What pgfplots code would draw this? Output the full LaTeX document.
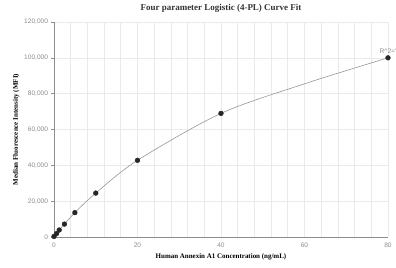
\documentclass[border=0pt]{standalone}
\usepackage{pgfplots}
\pgfplotsset{compat=1.18}
\usepackage{fontspec}
\setmainfont{Liberation Serif}
\newfontfamily\tickfont{Liberation Sans}
\definecolor{gridc}{RGB}{234,234,238}
\definecolor{tickc}{RGB}{140,140,140}
\definecolor{curvec}{RGB}{150,150,150}
\begin{document}
\begin{tikzpicture}
\useasboundingbox (-54bp,-31bp) rectangle (342bp,237bp);
\begin{axis}[
  scale only axis,
  width=334bp, height=215bp,
  xmin=0, xmax=80, ymin=0, ymax=120000,
  xtick={0,20,40,60,80},
  minor x tick num=4,
  ytick={0,20000,40000,60000,80000,100000,120000},
  scaled y ticks=false,
  yticklabel style={/pgf/number format/.cd,fixed,1000 sep={,}},
  /pgf/number format/assume math mode=true,
  tick label style={font=\tickfont\fontsize{6.6}{7}\selectfont, text=tickc},
  grid=both,
  major grid style={gridc, line width=0.6bp},
  minor grid style={gridc, line width=0.6bp},
  axis line style={draw=none},
  axis x line*=bottom, axis y line*=left,
  x axis line style={draw=tickc, line width=0.7bp},
  y axis line style={draw=tickc, line width=0.7bp},
  tick style={draw=tickc, line width=0.5bp},
  tick align=outside,
  major tick length=2.5bp,
  minor tick length=0pt,
  xtick style={draw=none},
  xlabel={\bfseries Human Annexin A1 Concentration (ng/mL)},
  ylabel={\bfseries Median Fluorescence Intensity (MFI)},
  label style={font=\fontsize{7}{8}\selectfont},
  xlabel style={yshift=1bp},
  ylabel style={yshift=-2bp},
  clip=false,
]
\addplot[curvec, line width=0.6bp, smooth, tension=0.5] coordinates {
 (0,300) (0.625,1900) (1.25,3900) (2.5,7200) (5,13600) (10,24500) (20,42800) (40,69000) (60,85500) (80,100000)
};
\addplot[only marks, mark=*, mark size=2.4bp, black!85] coordinates {
 (0,300) (0.625,1900) (1.25,3900) (2.5,7200) (5,13600) (10,24500) (20,42800) (40,69000) (80,100000)
};
\node[anchor=south, font=\tickfont\fontsize{6.6}{7}\selectfont, text=tickc, inner sep=1bp] at (axis cs:80,101800) {R\^{}2='};
\node[anchor=center, font=\fontsize{9}{10}\selectfont\bfseries, text=black!80, inner sep=0pt] at ([yshift=14bp]rel axis cs:0.5,1) {Four parameter Logistic (4-PL) Curve Fit};
\end{axis}
\end{tikzpicture}
\end{document}
